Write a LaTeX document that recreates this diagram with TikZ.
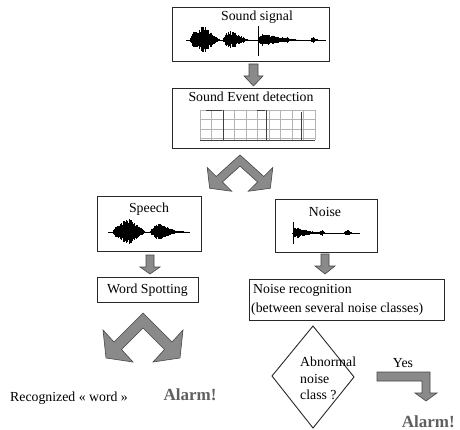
\documentclass[tikz,border=0pt]{standalone}
\usepackage{fontspec}
\setmainfont{Liberation Serif}
\definecolor{arrowfill}{RGB}{138,138,138}
\definecolor{arrowline}{RGB}{70,70,70}
\definecolor{boxline}{RGB}{40,40,40}
\definecolor{alarmcol}{RGB}{95,95,95}
\definecolor{gridcol}{RGB}{180,180,180}
\tikzset{
 box/.style={draw=boxline, line width=0.9pt, inner sep=0pt},
 lbl/.style={font=\fontsize{13.8}{16}\selectfont, inner sep=0pt},
 blockarrow/.style={fill=arrowfill, draw=arrowline, line width=0.6pt, line join=miter},
 wave/.style={line width=0.8pt, black},
 alarm/.style={font=\fontsize{17}{20}\selectfont\bfseries, text=alarmcol, inner sep=0pt},
 chevron/.pic={\draw[blockarrow] (0,0) -- (-29,29) -- (-40,17) -- (-37,45) -- (-10,49) -- (-21.5,36.5) -- (0,15) -- (21.5,36.5) -- (10,49) -- (37,45) -- (40,17) -- (29,29) -- cycle;}
}
\newcommand\wblob[5]{%
 \pgfmathsetmacro\wbs{#1+0.5}%
 \foreach \xx in {#1,\wbs,...,#3}{%
   \pgfmathsetmacro\wenv{\xx<#2 ? #4*(max((\xx-#1)/(#2-#1),0.02))^0.5 : #4*(max((#3-\xx)/(#3-#2),0.02))^1.1}%
   \pgfmathsetmacro\wamp{\wenv*(0.5+0.5*rnd)}%
   \draw[wave] (\xx,#5-\wamp) -- (\xx,#5+0.9*\wamp);
 }}
\newcommand\downblock[6]{% xleft xright ytop yhead headhalf tip
 \pgfmathsetmacro\dbc{(#1+#2)/2}%
 \draw[blockarrow] (#1,#3) -- (#2,#3) -- (#2,#4) -- (\dbc+#5,#4) -- (\dbc,#6) -- (\dbc-#5,#4) -- (#1,#4) -- cycle;}
\begin{document}
\begin{tikzpicture}[x=1pt,y=-1pt]
\pgfmathsetseed{7}
\useasboundingbox (0,0) rectangle (460,430);
% boxes
\node[box, minimum width=157pt, minimum height=54pt] (sig) at (250.5,34) {};
\node[box, minimum width=157pt, minimum height=60pt] (sed) at (250.5,118) {};
\node[box, minimum width=104pt, minimum height=55pt] (sp) at (149,223.5) {};
\node[box, minimum width=102pt, minimum height=53pt] (no) at (326,225.5) {};
\node[box, minimum width=101pt, minimum height=25pt] (ws) at (147.5,289.5) {};
\node[box, minimum width=195pt, minimum height=41pt] (nr) at (346.5,300) {};
\draw[boxline, line width=0.9pt] (313,326) -- (354,377) -- (313,428) -- (272,376) -- cycle;
\coordinate (dia) at (313,377);
% labels
\node[lbl] (t1) at (257,17) {Sound signal};
\node[lbl] (t2) at (251,97) {Sound Event detection};
\node[lbl] (t3) at (149,209) {Speech};
\node[lbl] (t4) at (325,212) {Noise};
\node[lbl] (t5) at (147.5,290) {Word Spotting};
\node[lbl, anchor=west] (t6) at (253,290) {Noise recognition};
\node[lbl, anchor=west] (t7) at (251,309) {(between several noise classes)};
\node[lbl, anchor=west] (t8) at (300,362) {Abnormal};
\node[lbl, anchor=west] (t9) at (300,379) {noise};
\node[lbl, anchor=west] (t10) at (300,395) {class ?};
\node[lbl] (yes) at (403,363) {Yes};
\node[lbl, anchor=west] (rw) at (10,398) {Recognized « word »};
\node[alarm] (al1) at (190,395) {Alarm!};
\node[alarm, anchor=east] (al2) at (455,422) {Alarm!};
% grid
\foreach \gx in {200,211.5,...,316} \draw[gridcol, line width=0.5pt] (\gx,110) -- (\gx,140);
\foreach \gy in {110,119.5,129,138.5} \draw[gridcol, line width=0.5pt] (200,\gy) -- (315,\gy);
\draw[black!75, line width=0.7pt] (200,140) -- (315,140);
\draw[black!75, line width=0.7pt] (206,110) -- (222,110) (223,110) -- (223,140);
\draw[black!75, line width=0.7pt] (257,110) -- (265,110) (266,110) -- (266,140);
\draw[black!75, line width=0.7pt] (301,112) -- (301,140);
% waveform: sound signal
\draw[black, line width=0.6pt] (186,40) -- (326,40);
\wblob{190}{203}{220}{15}{40}
\wblob{223}{230}{250}{10}{40}
\draw[black, line width=1pt] (258,26) -- (258,56);
\wblob{259}{261}{300}{7}{40}
\wblob{283}{287}{292}{3}{40}
\wblob{311}{313}{318}{3.5}{40}
% speech
\draw[black, line width=0.6pt] (108,232) -- (190,232);
\wblob{113}{130}{146}{14}{232}
\wblob{150}{158}{180}{9}{232}
\wblob{178}{180}{188}{1.5}{232}
% noise
\draw[black, line width=0.6pt] (292,233) -- (360,233);
\draw[black, line width=1pt] (293,222) -- (293,244);
\wblob{293}{295}{322}{6}{233}
\wblob{318}{322}{326}{3}{233}
\wblob{344}{348}{352}{3}{233}
% block arrows
\downblock{249}{258}{64}{76}{9.5}{86}
\downblock{146}{154}{255}{267}{10}{274}
\downblock{321}{329}{254}{266}{10}{274}
\pic[xscale=0.82, yscale=0.74] at (240,155) {chevron};
\pic at (143,313) {chevron};
\draw[blockarrow] (377,372) -- (430,372) -- (430,393) -- (437,393) -- (426,401) -- (415,393) -- (422,393) -- (422,381) -- (377,381) -- cycle;
\end{tikzpicture}
\end{document}
